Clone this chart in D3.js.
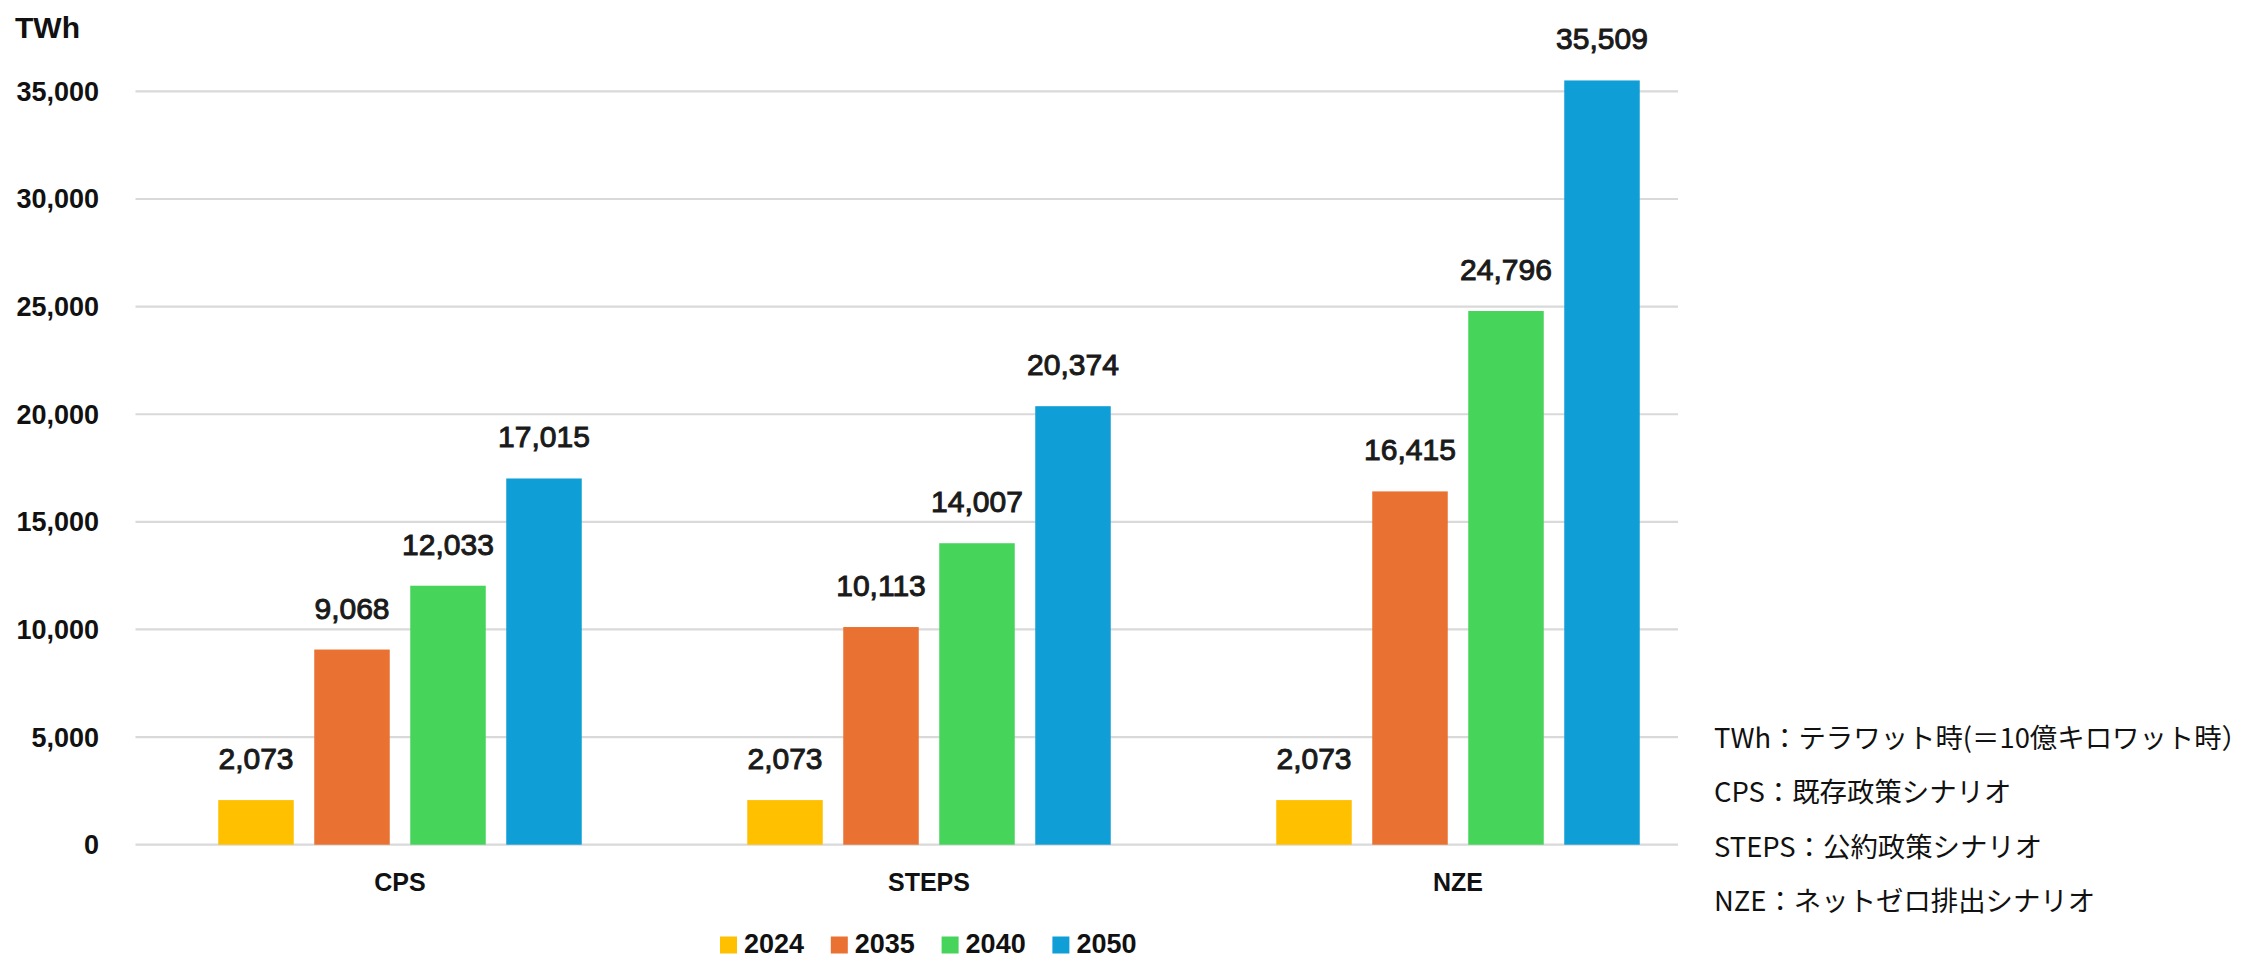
<!DOCTYPE html>
<html>
<head>
<meta charset="utf-8">
<script src="https://cdn.jsdelivr.net/npm/d3@7/dist/d3.min.js"></script>
<style>
  html, body { margin: 0; padding: 0; background: #fff; }
  svg { display: block; }
</style>
</head>
<body>
<svg id="chart" width="2248" height="959"></svg>
<script>
// ---- data ----
const categories = ["CPS", "STEPS", "NZE"];
const years = ["2024", "2035", "2040", "2050"];
const values2024 = [2073, 2073, 2073];
const values2035 = [9068, 10113, 16415];
const values2040 = [12033, 14007, 24796];
const values2050 = [17015, 20374, 35509];
const yTicks = [0, 5000, 10000, 15000, 20000, 25000, 30000, 35000];
const unitLabel = "TWh";
const notes = [
  "TWh：テラワット時(＝10億キロワット時）",
  "CPS：既存政策シナリオ",
  "STEPS：公約政策シナリオ",
  "NZE：ネットゼロ排出シナリオ"
];
const colors = ["#FFC000", "#E97132", "#47D45A", "#109ED6"];

const seriesValues = [values2024, values2035, values2040, values2050];
const rows = categories.map((c, i) => ({
  cat: c,
  vals: years.map((y, j) => ({ year: y, value: seriesValues[j][i], color: colors[j] }))
}));

// ---- layout ----
const svg = d3.select("#chart");
const plotLeft = 135.5, gridRight = 1678;
const bandWidth = 529;
const y = d3.scaleLinear().domain([0, 35000]).range([844.7, 91.4]);
const x0 = d3.scaleBand().domain(categories).range([plotLeft, plotLeft + bandWidth * 3]).padding(0);
const x1 = d3.scaleBand().domain(years).range([82.75, bandWidth - 82.75]).paddingInner(0.2135).paddingOuter(0);

const fmt = d3.format(",");

// gridlines
svg.append("g").selectAll("line").data(yTicks).join("line")
  .attr("x1", plotLeft).attr("x2", gridRight)
  .attr("y1", d => y(d)).attr("y2", d => y(d))
  .attr("stroke", "#D9D9D9").attr("stroke-width", 2.2);

// y tick labels
svg.append("g").selectAll("text").data(yTicks).join("text")
  .attr("x", 99).attr("y", d => y(d))
  .attr("dy", "0.35em")
  .attr("text-anchor", "end")
  .attr("font-family", "'Liberation Sans', Arial, sans-serif")
  .attr("font-weight", "bold").attr("font-size", 27)
  .attr("fill", "#111")
  .text(d => fmt(d));

// unit
svg.append("text").attr("x", 15).attr("y", 38)
  .attr("font-family", "'Liberation Sans', Arial, sans-serif")
  .attr("font-weight", "bold").attr("font-size", 30).attr("fill", "#111")
  .text(unitLabel);

// bars
const groups = svg.append("g").selectAll("g").data(rows).join("g")
  .attr("transform", d => `translate(${x0(d.cat)},0)`);

groups.selectAll("rect").data(d => d.vals).join("rect")
  .attr("x", d => x1(d.year))
  .attr("width", x1.bandwidth())
  .attr("y", d => y(d.value))
  .attr("height", d => y(0) - y(d.value))
  .attr("fill", d => d.color);

groups.selectAll("text").data(d => d.vals).join("text")
  .attr("x", d => x1(d.year) + x1.bandwidth() / 2)
  .attr("y", d => y(d.value) - 31)
  .attr("text-anchor", "middle")
  .attr("font-family", "'Liberation Sans', Arial, sans-serif")
  .attr("font-size", 30).attr("fill", "#1a1a1a")
  .attr("stroke", "#1a1a1a").attr("stroke-width", 1)
  .text(d => fmt(d.value));

// category labels
svg.append("g").selectAll("text").data(categories).join("text")
  .attr("x", d => x0(d) + bandWidth / 2)
  .attr("y", 891)
  .attr("text-anchor", "middle")
  .attr("font-family", "'Liberation Sans', Arial, sans-serif")
  .attr("font-weight", "bold").attr("font-size", 25).attr("fill", "#111")
  .text(d => d);

// legend
const legend = svg.append("g").selectAll("g").data(years).join("g")
  .attr("transform", (d, i) => `translate(${720 + i * 110.8},0)`);
legend.append("rect").attr("x", 0).attr("y", 936.5).attr("width", 17).attr("height", 17)
  .attr("fill", (d, i) => colors[i]);
legend.append("text").attr("x", 24).attr("y", 953)
  .attr("font-family", "'Liberation Sans', Arial, sans-serif")
  .attr("font-weight", "bold").attr("font-size", 27).attr("fill", "#111")
  .text(d => d);

// notes
svg.append("g").selectAll("text").data(notes).join("text")
  .attr("x", 1714).attr("y", (d, i) => 738 + i * 54.5)
  .attr("dy", "0.35em")
  .attr("font-family", "'Noto Sans CJK JP', sans-serif")
  .attr("font-size", 27.4).attr("fill", "#111")
  .text(d => d);
</script>
</body>
</html>
